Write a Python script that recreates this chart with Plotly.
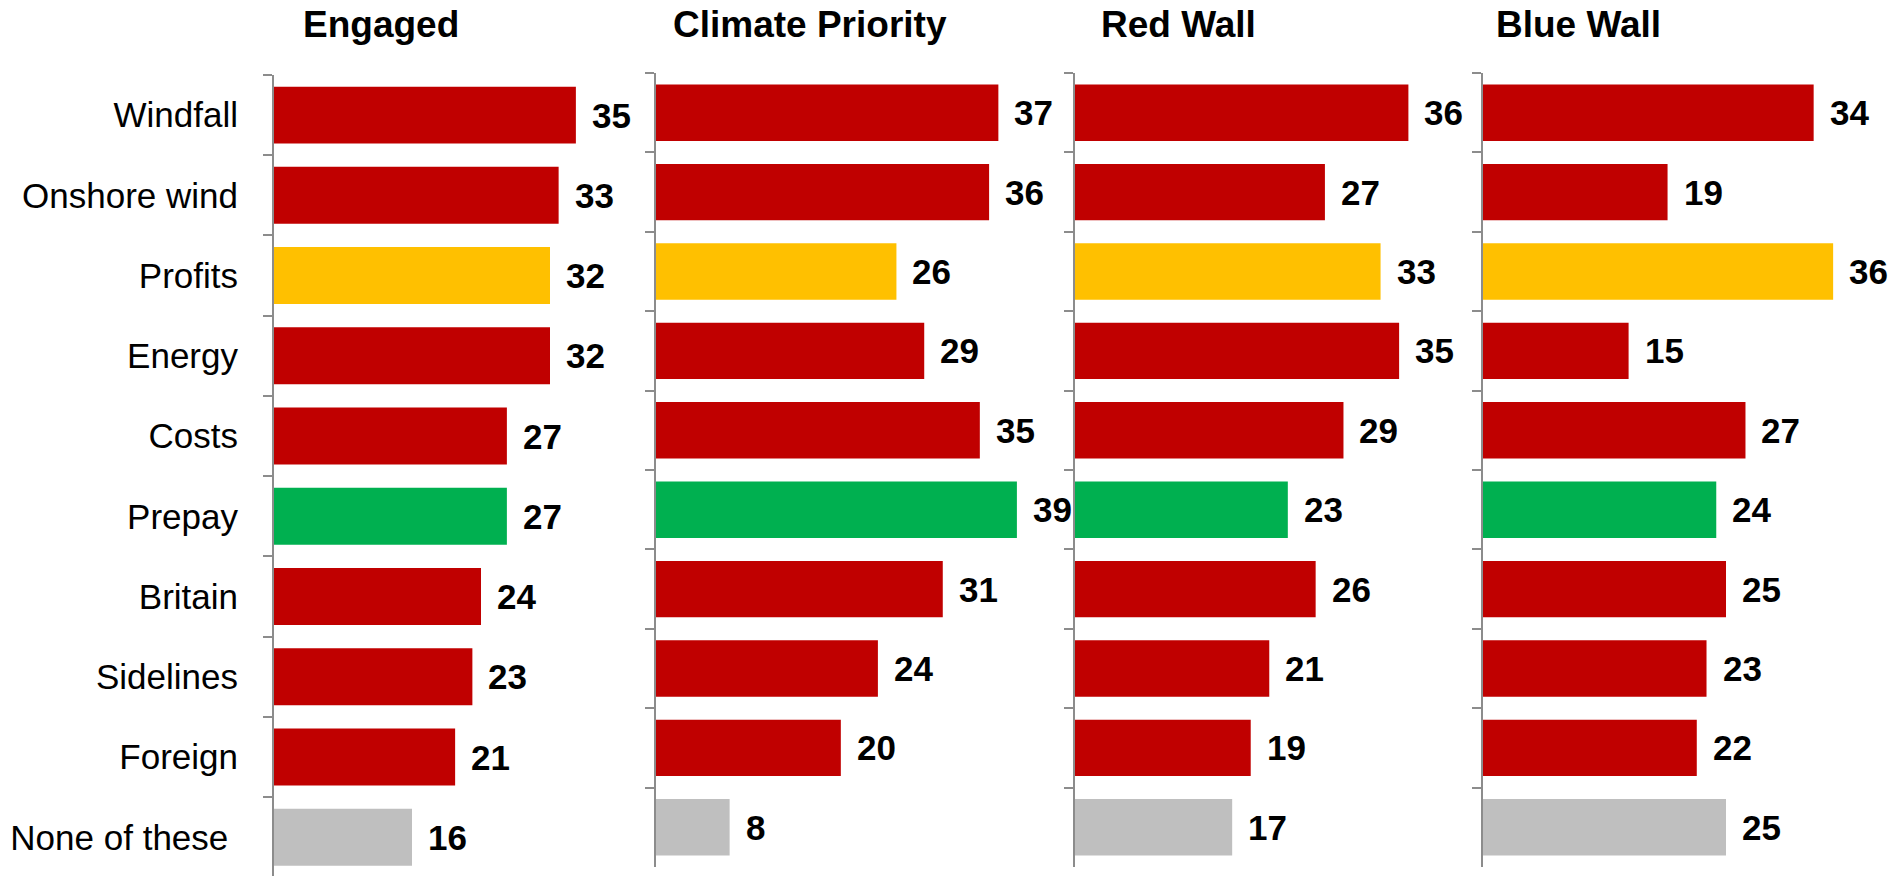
import plotly.graph_objects as go

categories = ["Windfall", "Onshore wind", "Profits", "Energy", "Costs",
              "Prepay", "Britain", "Sidelines", "Foreign", "None of these"]
category_labels = categories[:-1] + ["None of these\u00a0"]

panel_titles = ["Engaged", "Climate Priority", "Red Wall", "Blue Wall"]
engaged = [35, 33, 32, 32, 27, 27, 24, 23, 21, 16]
climate_priority = [37, 36, 26, 29, 35, 39, 31, 24, 20, 8]
red_wall = [36, 27, 33, 35, 29, 23, 26, 21, 19, 17]
blue_wall = [34, 19, 36, 15, 27, 24, 25, 23, 22, 25]
series = [engaged, climate_priority, red_wall, blue_wall]

RED, YEL, GRN, GRY = "#C00000", "#FFC000", "#00B050", "#BFBFBF"
cat_colors = [RED, RED, YEL, RED, RED, GRN, RED, RED, RED, GRY]

W, H = 1895, 876
FONT = "Liberation Sans, Arial, sans-serif"

# panel geometry in pixels
x_px = [(274, 619), (655.5, 1072.5), (1074.5, 1445.5), (1482.5, 1872.1)]
x_max = [40, 45, 40, 40]
y_px = [(75, 876), (73, 867), (73, 867), (73, 867)]
y_bottom_range = [-0.5 + (876 - 75) / 80.24, 9.5, 9.5, 9.5]
title_x = [381, 810, 1178, 1578.5]

fig = go.Figure()
layout = dict(width=W, height=H, margin=dict(l=0, r=0, t=0, b=0),
              paper_bgcolor="white", plot_bgcolor="white", showlegend=False,
              font=dict(family=FONT, color="black"))
annotations = []
for i, vals in enumerate(series):
    n = "" if i == 0 else str(i + 1)
    fig.add_trace(go.Bar(
        x=vals, y=categories, orientation="h", width=0.71,
        marker=dict(color=cat_colors, line=dict(width=0)),
        xaxis="x" + n, yaxis="y" + n, hoverinfo="x+y",
    ))
    layout["xaxis" + n] = dict(
        domain=[x_px[i][0] / W, x_px[i][1] / W], range=[0, x_max[i]],
        visible=False, fixedrange=True, anchor="y" + n)
    layout["yaxis" + n] = dict(
        domain=[1 - y_px[i][1] / H, 1 - y_px[i][0] / H],
        type="category", categoryarray=categories,
        range=[y_bottom_range[i], -0.5], anchor="x" + n,
        showline=True, linecolor="#8C8C8C", linewidth=2,
        ticks="outside", tickson="boundaries", ticklen=9, tickwidth=2,
        tickcolor="#8C8C8C", showgrid=False, zeroline=False,
        showticklabels=(i == 0), fixedrange=True,
        tickvals=categories, ticktext=category_labels,
        tickfont=dict(family=FONT, size=35, color="black"),
        ticklabelstandoff=27,
    )
    for c, v in zip(categories, vals):
        annotations.append(dict(
            x=v, y=c, xref="x" + n, yref="y" + n, text="<b>%d</b>" % v,
            showarrow=False, xanchor="left", yanchor="middle", xshift=14,
            font=dict(family=FONT, size=35, color="black")))
    annotations.append(dict(
        x=title_x[i] / W, y=1 - 24 / H, xref="paper", yref="paper",
        text="<b>%s</b>" % panel_titles[i], showarrow=False,
        xanchor="center", yanchor="middle",
        font=dict(family=FONT, size=37, color="black")))

layout["annotations"] = annotations
fig.update_layout(**layout)
fig.write_html(
    "out.html",
    config={"displayModeBar": False},
    post_script="document.body.style.margin='0';"
                "document.body.style.overflow='hidden';",
)
